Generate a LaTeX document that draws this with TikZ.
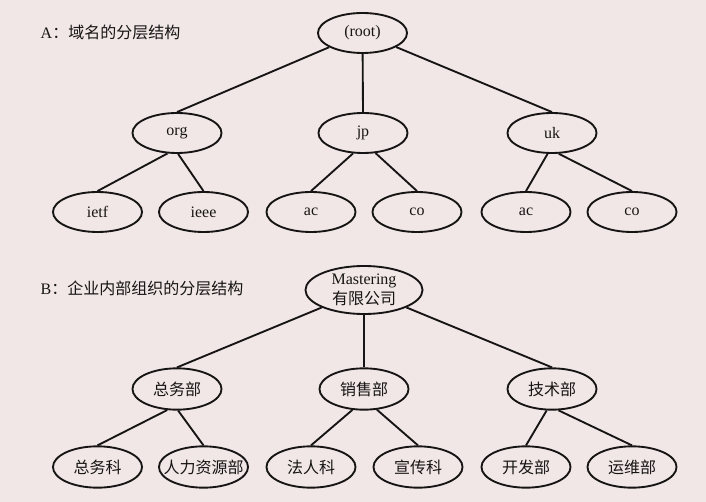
\documentclass[tikz,border=0pt]{standalone}
\usepackage{fontspec}
\setmainfont{Liberation Serif}
\newfontfamily\cjk{Noto Sans CJK SC}
\usepackage{tikz}
\usetikzlibrary{shapes.geometric}
\definecolor{cpaper}{RGB}{241,231,230}
\definecolor{cink}{RGB}{22,20,20}

\begin{document}
\begin{tikzpicture}[
  x=0.75pt,y=-0.75pt,
  font=\fontsize{12}{13.5}\selectfont,
  % every box of both trees is the same oval; the root of B is only wider
  oval/.style={ellipse,draw=cink,line width=1.4pt,minimum width=66.8pt,minimum height=30pt,text=cink},
  bigoval/.style={oval,minimum width=87.8pt,minimum height=36pt,inner sep=0pt,align=center,
    font=\fontsize{12}{14.5}\selectfont},
  edge/.style={cink,line width=1.4pt},
  ttl/.style={anchor=west,text=cink},
]
\fill[cpaper] (0,0) rectangle (706,502);

% =========== A: domain names ==========================================
\node[ttl] (ttlA) at (36,32) {A{\cjk ：域名的分层结构}};
\node[oval] (root) at (362.5,33) {(root)};
\node[oval] (org)  at (177,133) {org};
\node[oval] (jp)   at (363,133) {jp};
\node[oval] (uk)   at (552,133) {uk};
\node[oval] (ietf) at (97.5,212) {ietf};
\node[oval] (ieee) at (203.5,212) {ieee};
\node[oval] (jpac) at (311,212) {ac};
\node[oval] (jpco) at (417,212) {co};
\node[oval] (ukac) at (526,212) {ac};
\node[oval] (ukco) at (632,212) {co};
\draw[edge] (root) -- (org.north);
\draw[edge] (root) -- (jp.north);
\draw[edge] (root) -- (uk.north);
\foreach \p/\a/\c in {org/-115/ietf,org/-87/ieee,jp/-116/jpac,jp/-58/jpco,uk/-102/ukac,uk/-72/ukco}{
  \draw[edge] (\p.\a) -- (\c.north);
}

% =========== B: departments of one company ============================
\node[ttl] (ttlB) at (36,288) {B{\cjk ：企业内部组织的分层结构}};
\node[bigoval] (corp) at (364,290) {Mastering\\{\cjk 有限公司}};
\node[oval,minimum height=31pt] (gen)   at (177,389) {\cjk 总务部};
\node[oval,minimum height=31pt] (sales) at (364,389) {\cjk 销售部};
\node[oval,minimum height=31pt] (tech)  at (552,389) {\cjk 技术部};
\node[oval,minimum height=31pt] (genA)  at (97.5,467) {\cjk 总务科};
\node[oval,minimum height=31pt,inner xsep=-7pt] (hr) at (203.5,467) {\cjk 人力资源部};
\node[oval,minimum height=31pt] (legal) at (311,467) {\cjk 法人科};
\node[oval,minimum height=31pt] (pr)    at (418,467) {\cjk 宣传科};
\node[oval,minimum height=31pt] (dev)   at (526,467) {\cjk 开发部};
\node[oval,minimum height=31pt] (ops)   at (632,467) {\cjk 运维部};
\draw[edge] (corp) -- (gen.north);
\draw[edge] (corp) -- (sales.north);
\draw[edge] (corp) -- (tech.north);
\foreach \p/\a/\c in {gen/-115/genA,gen/-87/hr,sales/-119/legal,sales/-58/pr,tech/-104/dev,tech/-73/ops}{
  \draw[edge] (\p.\a) -- (\c.north);
}

\end{tikzpicture}
\end{document}
